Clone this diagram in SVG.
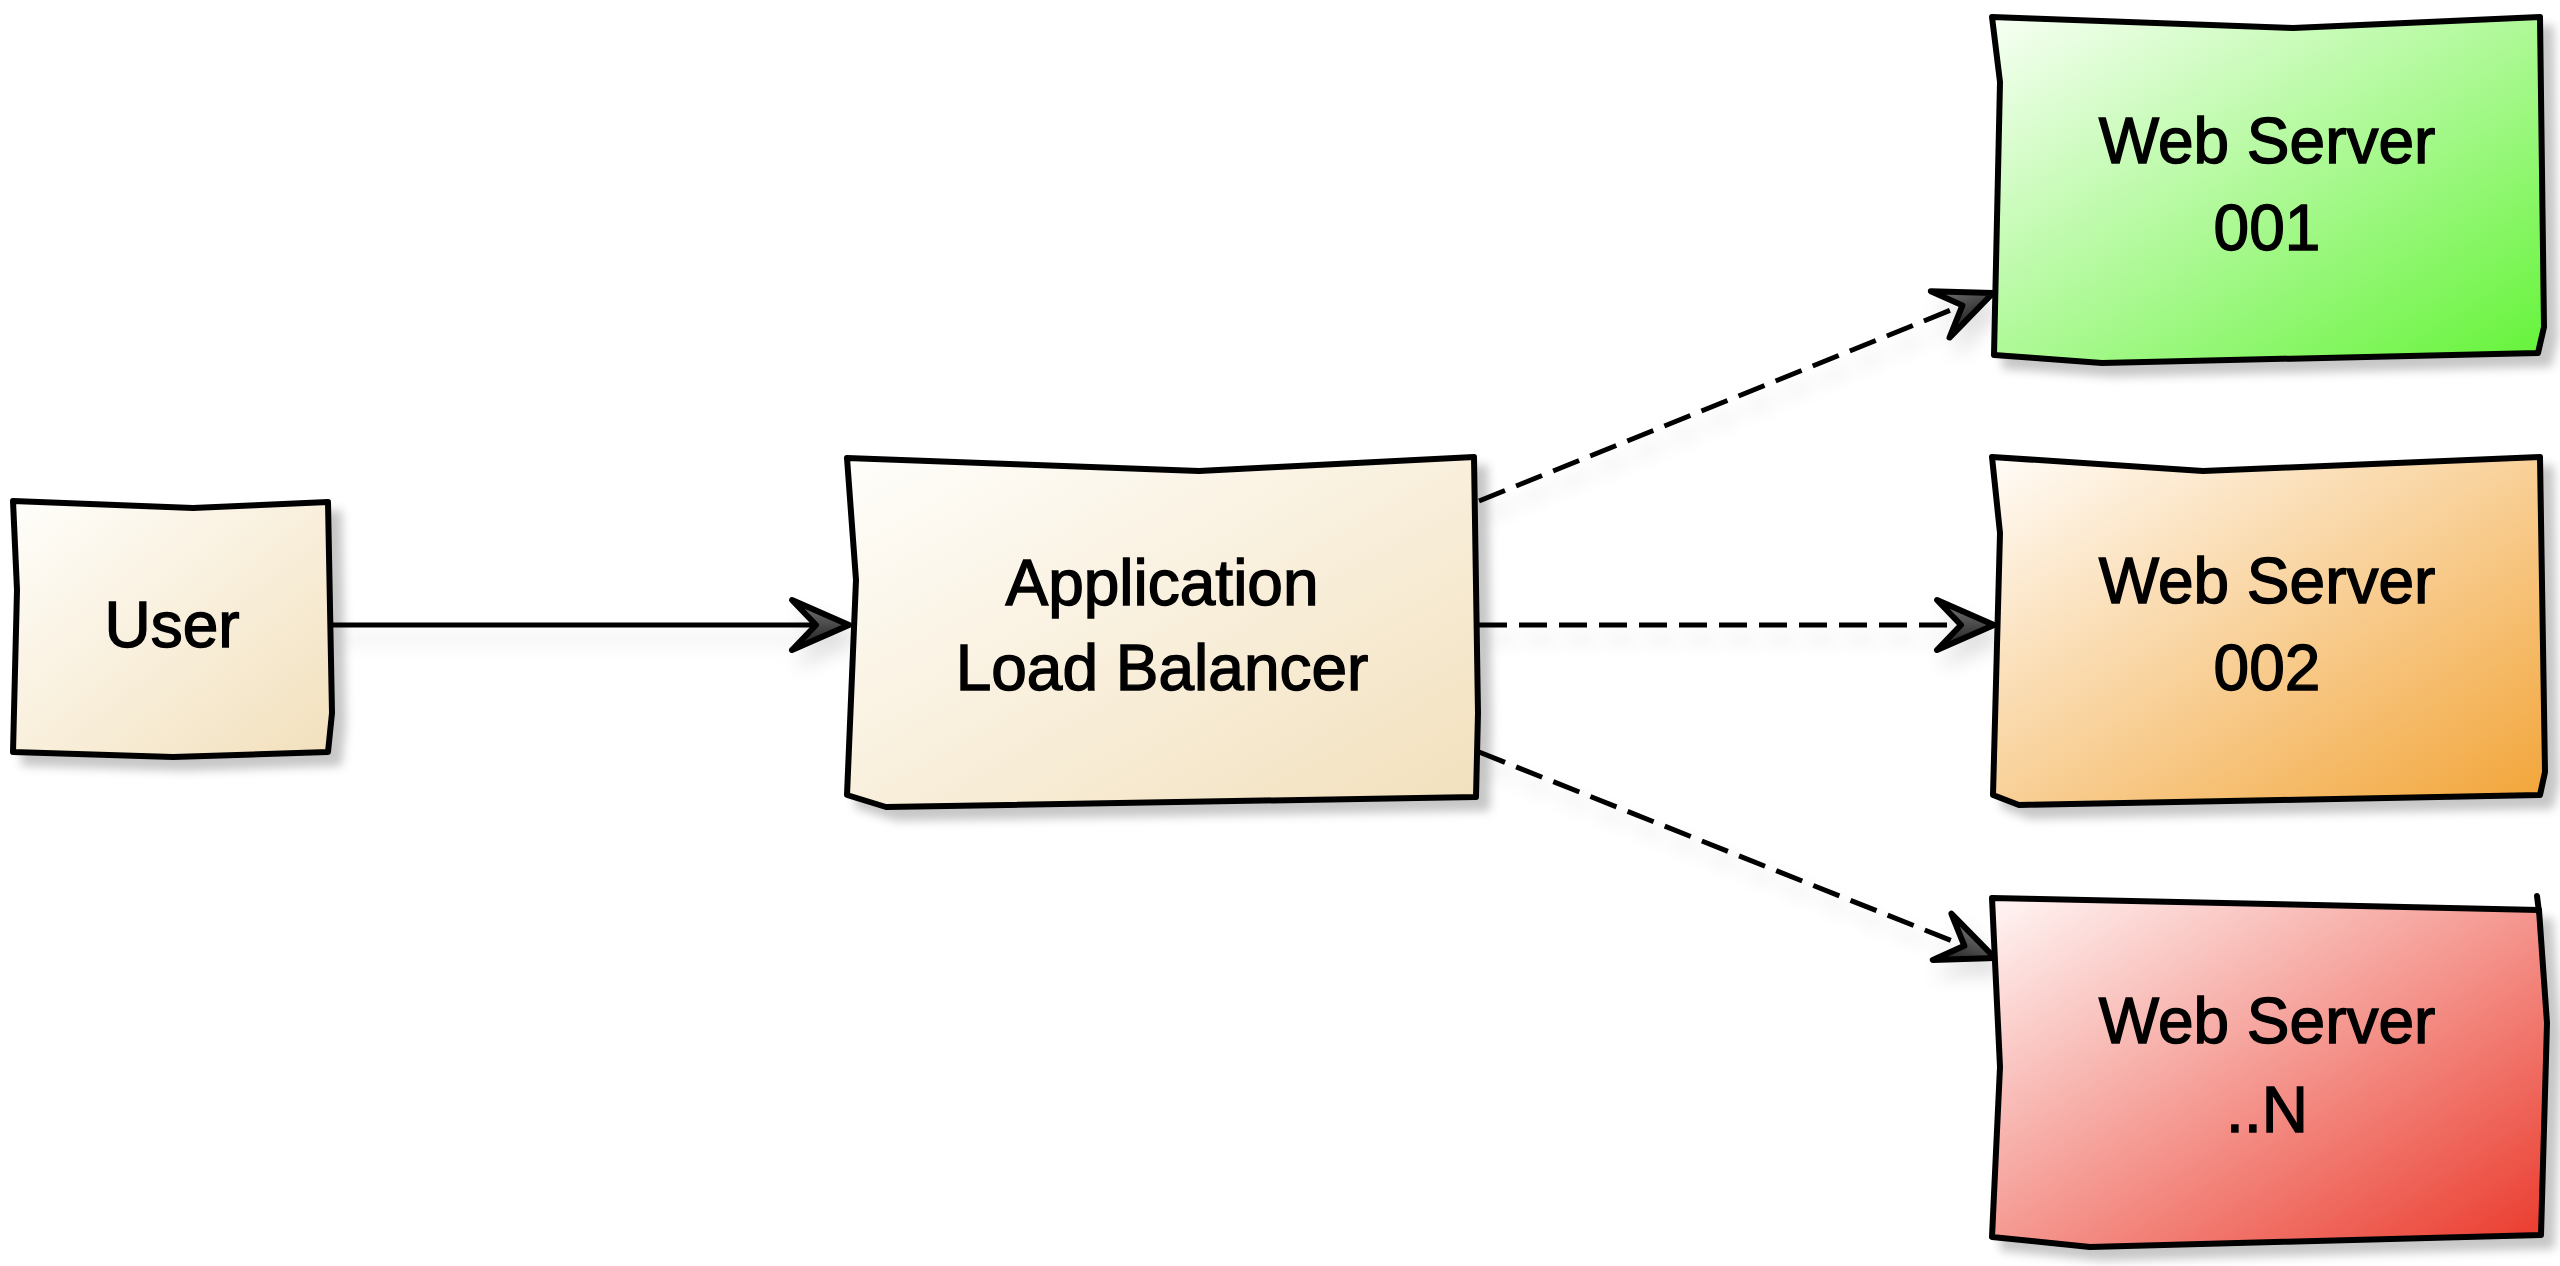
<svg xmlns="http://www.w3.org/2000/svg" width="2560" height="1266" viewBox="0 0 2560 1266">
  <style>
    .box { stroke: #000; stroke-width: 6; stroke-linejoin: round; filter: url(#shadow); }
    .label { font-family: "Liberation Sans", Arial, sans-serif; font-size: 64px; fill: #000; stroke: #000; stroke-width: 1.4; text-anchor: middle; }
    .edge { fill: none; stroke: #000; stroke-width: 5; filter: url(#edgeShadow); }
    .dashed { stroke-dasharray: 28 12; }
  </style>
  <defs>
    <linearGradient id="gradSand" x1="0" y1="0" x2="1" y2="1">
      <stop offset="0" stop-color="#FFFEFB"/>
      <stop offset="1" stop-color="#F2E0BC"/>
    </linearGradient>
    <linearGradient id="gradGreen" x1="0" y1="0" x2="1" y2="1">
      <stop offset="0" stop-color="#F7FFF4"/>
      <stop offset="1" stop-color="#64F338"/>
    </linearGradient>
    <linearGradient id="gradOrange" x1="0" y1="0" x2="1" y2="1">
      <stop offset="0" stop-color="#FFFCF8"/>
      <stop offset="1" stop-color="#F2A437"/>
    </linearGradient>
    <linearGradient id="gradRed" x1="0" y1="0" x2="1" y2="1">
      <stop offset="0" stop-color="#FFF6F5"/>
      <stop offset="1" stop-color="#EA392B"/>
    </linearGradient>
    <linearGradient id="headFill" x1="0" y1="0" x2="0" y2="1">
      <stop offset="0" stop-color="#7A7A7A"/>
      <stop offset="1" stop-color="#1A1A1A"/>
    </linearGradient>
    <filter id="shadow" filterUnits="userSpaceOnUse" x="0" y="0" width="2560" height="1266">
      <feDropShadow dx="11" dy="11" stdDeviation="5" flood-color="#000" flood-opacity="0.22"/>
    </filter>
    <filter id="edgeShadow" filterUnits="userSpaceOnUse" x="0" y="0" width="2560" height="1266">
      <feDropShadow dx="8" dy="14" stdDeviation="9" flood-color="#000" flood-opacity="0.12"/>
    </filter>
    <marker id="arrow" markerUnits="userSpaceOnUse" markerWidth="90" markerHeight="80" viewBox="-70 -40 90 80" refX="0" refY="0" orient="auto" overflow="visible">
      <path d="M0,0 L-57,-25 L-33,0 L-57,25 Z" fill="url(#headFill)" stroke="#000" stroke-width="6" stroke-linejoin="round" stroke-dasharray="none"/>
    </marker>
  </defs>

  <rect x="0" y="0" width="2560" height="1266" fill="#FFFFFF"/>

  <g id="connectors">
    <path id="user-to-alb" class="edge" d="M331,625 L849,625" marker-end="url(#arrow)"/>
    <path id="alb-to-web001" class="edge dashed" d="M1479,501 L1993,293" marker-end="url(#arrow)"/>
    <path id="alb-to-web002" class="edge dashed" d="M1479,625 L1994,625" marker-end="url(#arrow)"/>
    <path id="alb-to-webN" class="edge dashed" d="M1479,752 L1995,958" marker-end="url(#arrow)"/>
  </g>

  <g id="user">
    <polygon class="box" fill="url(#gradSand)" points="13,501 193,508 328,502 332,713 328,752 173,757 13,752 17,590"/>
    <text class="label" x="172" y="647">User</text>
  </g>

  <g id="alb">
    <polygon class="box" fill="url(#gradSand)" points="847,458 1199,471 1474,457 1478,713 1476,797 886,807 847,795 856,580"/>
    <text class="label" x="1162" y="605">Application</text>
    <text class="label" x="1162" y="690">Load Balancer</text>
  </g>

  <g id="web-server-001">
    <polygon class="box" fill="url(#gradGreen)" points="1992,17 2293,28 2540,17 2544,327 2538,353 2102,363 1994,355 2000,82"/>
    <text class="label" x="2267" y="163">Web Server</text>
    <text class="label" x="2267" y="250">001</text>
  </g>

  <g id="web-server-002">
    <polygon class="box" fill="url(#gradOrange)" points="1992,457 2203,471 2540,457 2545,772 2540,795 2019,805 1993,795 2000,533"/>
    <text class="label" x="2267" y="603">Web Server</text>
    <text class="label" x="2267" y="690">002</text>
  </g>

  <g id="web-server-n">
    <polygon class="box" fill="url(#gradRed)" points="1992,898 2539,910 2547,1023 2541,1235 2090,1247 1992,1237 2000,1067"/>
    <path d="M2537,896 L2539,912" fill="none" stroke="#000" stroke-width="6" stroke-linecap="round"/>
    <text class="label" x="2267" y="1043">Web Server</text>
    <text class="label" x="2267" y="1132">..N</text>
  </g>
</svg>
